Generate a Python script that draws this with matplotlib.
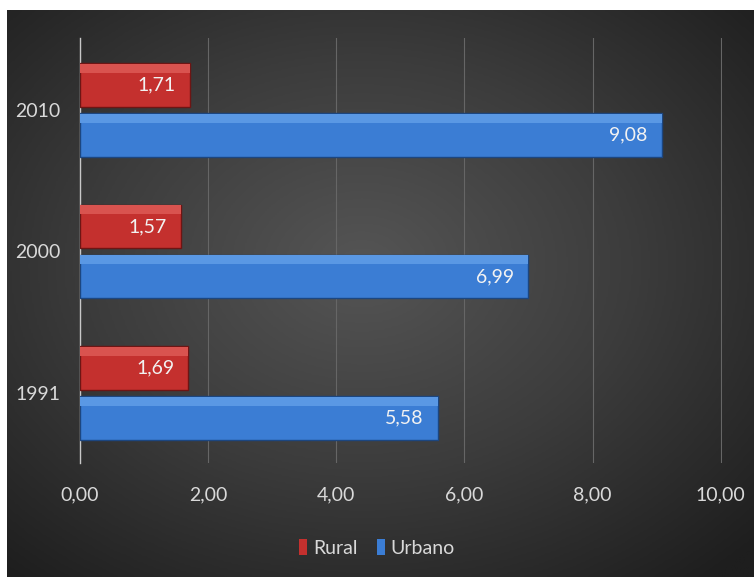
import numpy as np
import matplotlib.pyplot as plt
from matplotlib.colors import LinearSegmentedColormap
from matplotlib.patches import Patch

years = ["1991", "2000", "2010"]
rural = [1.69, 1.57, 1.71]
urbano = [5.58, 6.99, 9.08]
xticks = [0, 2, 4, 6, 8, 10]

plt.rcParams["font.family"] = ["Lato", "DejaVu Sans"]
txt = "#d9d9d9"
red, red_hi = "#c4302e", "#d9534f"
blue, blue_hi = "#3b7dd4", "#5a98e4"

fig = plt.figure(figsize=(7.54, 5.77), dpi=100, facecolor="white")

# dark radial background
bg = fig.add_axes([7 / 754, 0, 1 - 7 / 754, 1 - 10 / 577])
yy, xx = np.mgrid[-1:1:300j, -1:1:400j]
r = np.sqrt((xx + 0.05) ** 2 + (yy + 0.1) ** 2) / 1.45
cmap = LinearSegmentedColormap.from_list("bg", ["#555555", "#3c3c3c", "#1e1e1e"])
bg.imshow(np.clip(r, 0, 1), cmap=cmap, vmin=0, vmax=1, aspect="auto",
          extent=[0, 1, 0, 1], interpolation="bilinear")
bg.axis("off")

ax = fig.add_axes([80 / 754, 1 - 463 / 577, 642 / 754, 425 / 577])
ax.patch.set_alpha(0)

y = np.arange(len(years))
off = 0.177
h = 0.31
rb = ax.barh(y + off, rural, height=h, color=red, edgecolor="#6e1514", linewidth=1, zorder=3)
ub = ax.barh(y - off, urbano, height=h, color=blue, edgecolor="#1c4680", linewidth=1, zorder=3)
# glossy top strip
ax.barh(y + off + h * 0.38, rural, height=h * 0.2, color=red_hi, linewidth=0, zorder=3.5)
ax.barh(y - off + h * 0.38, urbano, height=h * 0.2, color=blue_hi, linewidth=0, zorder=3.5)

for bars, vals in ((rb, rural), (ub, urbano)):
    for b, v in zip(bars, vals):
        ax.text(v - 0.22, b.get_y() + b.get_height() / 2, f"{v:.2f}".replace(".", ","),
                ha="right", va="center", color="#f2f2f2", fontsize=14, zorder=4)

ax.set_xlim(0, 10.02)
ax.set_ylim(-0.495, 2.509)
ax.set_xticks(xticks)
ax.set_xticklabels([f"{t:.2f}".replace(".", ",") for t in xticks])
ax.set_yticks(y)
ax.set_yticklabels(years)
ax.tick_params(axis="both", colors=txt, labelsize=14, length=0)
ax.tick_params(axis="x", pad=17)
ax.tick_params(axis="y", pad=14)
ax.grid(axis="x", color="#666666", linewidth=0.8, zorder=0)
for s in ["top", "right", "bottom"]:
    ax.spines[s].set_visible(False)
ax.spines["left"].set_color("#c8c8c8")
ax.spines["left"].set_linewidth(1)

handles = [Patch(facecolor=red, label="Rural"), Patch(facecolor=blue, label="Urbano")]
fig.legend(handles=handles, loc="center", bbox_to_anchor=(0.5, 1 - 548 / 577), ncol=2,
           frameon=False, labelcolor=txt, fontsize=14, handlelength=0.4, handleheight=0.9,
           handletextpad=0.3, columnspacing=1.0)

fig.savefig("out.png", dpi=100, facecolor="white")
